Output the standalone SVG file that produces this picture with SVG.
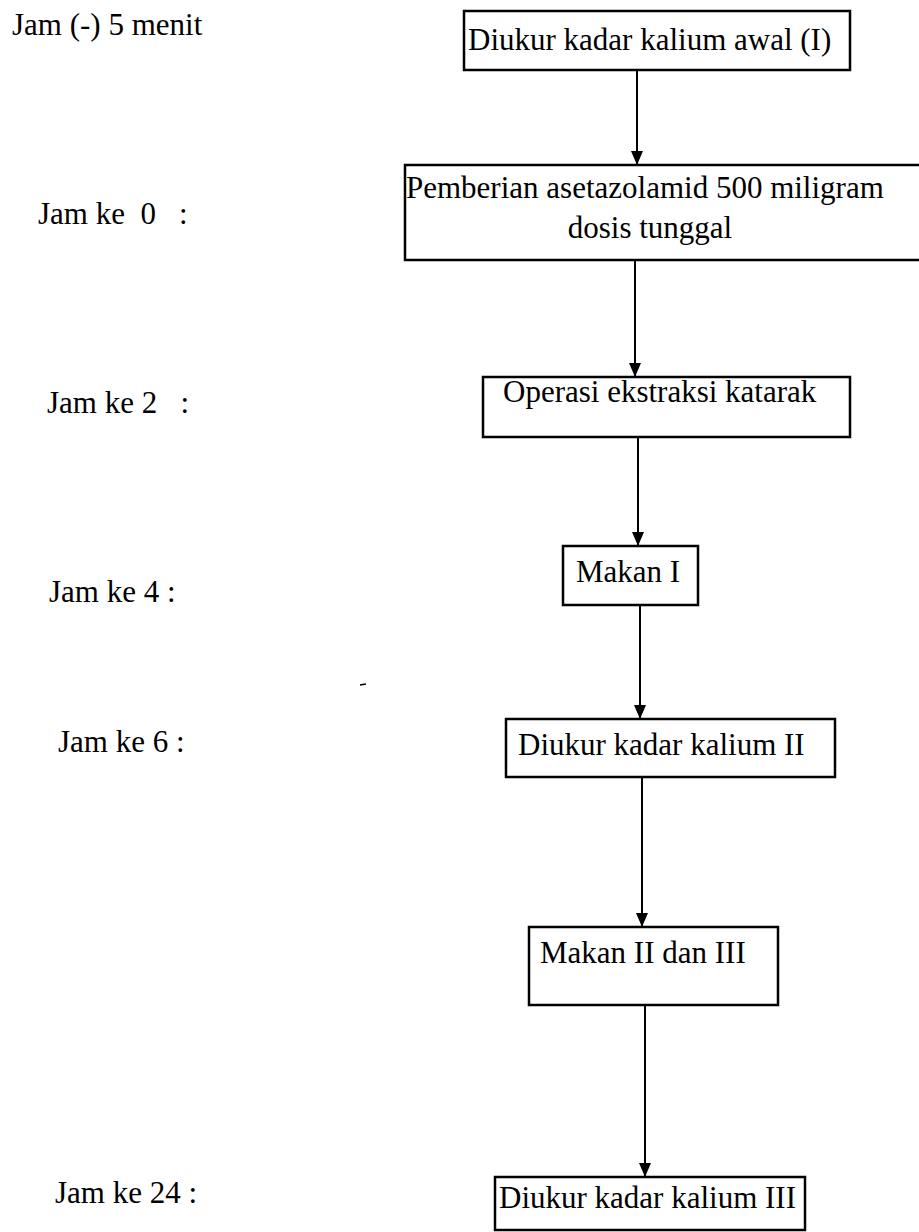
<svg xmlns="http://www.w3.org/2000/svg" width="919" height="1232" viewBox="0 0 919 1232">
<style>
text{font-family:'Liberation Serif','Tinos','Times New Roman','DejaVu Serif',serif;font-size:31px;fill:#000;white-space:pre}
.box{fill:#fff;stroke:#000;stroke-width:2.5}
.conn{stroke:#000;stroke-width:2;fill:none}
</style>
<defs>
<marker id="ah" markerUnits="userSpaceOnUse" markerWidth="14" markerHeight="12" refX="14" refY="6" orient="auto" viewBox="0 0 14 12">
<path d="M0,0 L14,6 L0,12 Z" fill="#000"/>
</marker>
</defs>
<rect width="919" height="1232" fill="#fff"/>
<g id="labels" font-family="Liberation Serif, serif">
<text x="12" y="35">Jam (-) 5 menit</text>
<text x="38" y="224" xml:space="preserve">Jam ke  0  <tspan x="179">:</tspan></text>
<text x="47" y="413" xml:space="preserve">Jam ke 2   :</text>
<text x="49" y="602">Jam ke 4 :</text>
<text x="58" y="752">Jam ke 6 :</text>
<text x="55" y="1203">Jam ke 24 :</text>
</g>
<g id="connectors">
<line class="conn" x1="637" y1="70" x2="637" y2="165" marker-end="url(#ah)"/>
<line class="conn" x1="635" y1="260" x2="635" y2="377" marker-end="url(#ah)"/>
<line class="conn" x1="638" y1="437" x2="638" y2="546" marker-end="url(#ah)"/>
<line class="conn" x1="640" y1="605" x2="640" y2="719" marker-end="url(#ah)"/>
<line class="conn" x1="642" y1="777" x2="642" y2="927" marker-end="url(#ah)"/>
<line class="conn" x1="645" y1="1005" x2="645" y2="1177" marker-end="url(#ah)"/>
</g>
<g id="n1">
<rect class="box" x="464" y="11" width="386" height="59" stroke-width="3"/>
<text x="468" y="50">Diukur kadar kalium awal (I)</text>
</g>
<g id="n2">
<rect class="box" x="405" y="165" width="520" height="95" stroke-width="3"/>
<text x="406" y="198">Pemberian asetazolamid 500 miligram</text>
<text x="650" y="238" text-anchor="middle">dosis tunggal</text>
</g>
<g id="n3">
<rect class="box" x="483" y="377" width="367" height="60"/>
<text x="503" y="402">Operasi ekstraksi katarak</text>
</g>
<g id="n4">
<rect class="box" x="563" y="546" width="135" height="59"/>
<text x="576" y="582">Makan I</text>
</g>
<g id="n5">
<rect class="box" x="506" y="719" width="329" height="58"/>
<text x="518" y="755">Diukur kadar kalium II</text>
</g>
<g id="n6">
<rect class="box" x="529" y="927" width="249" height="78" stroke-width="2"/>
<text x="540" y="963">Makan II dan III</text>
</g>
<g id="n7">
<rect class="box" x="495" y="1177" width="310" height="53"/>
<text x="499" y="1208">Diukur kadar kalium III</text>
</g>
<path d="M360,685 L366,684" stroke="#000" stroke-width="1.5"/>
</svg>
